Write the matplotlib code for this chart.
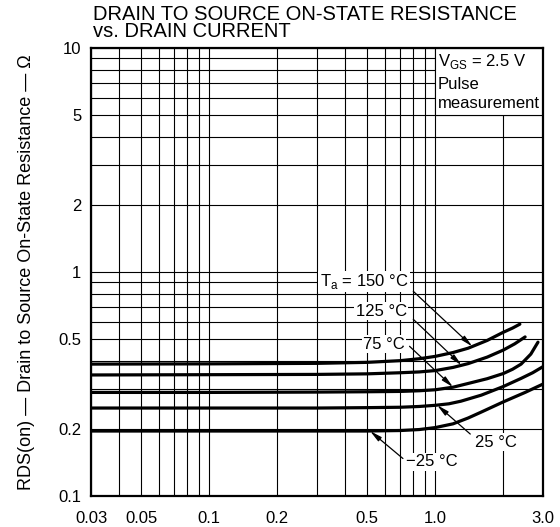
import numpy as np
import matplotlib
matplotlib.use("Agg")
import matplotlib.pyplot as plt
from matplotlib.ticker import FixedLocator, FixedFormatter, LogLocator, NullFormatter
from matplotlib.patches import Rectangle

plt.rcParams['font.family'] = ['Liberation Sans', 'DejaVu Sans']
plt.rcParams['mathtext.fontset'] = 'custom'
plt.rcParams['mathtext.rm'] = 'Liberation Sans'

# drain current (A) vs RDS(on) (ohm)
current_150 = [0.03, 0.1, 0.3, 0.5, 0.7, 0.85, 1.0, 1.2, 1.4, 1.7, 2.0, 2.2, 2.37]
rds_150 = [0.388, 0.389, 0.391, 0.395, 0.402, 0.41, 0.42, 0.437, 0.457, 0.495, 0.538, 0.562, 0.585]

current_125 = [0.03, 0.1, 0.3, 0.5, 0.7, 0.85, 1.0, 1.2, 1.4, 1.7, 2.0, 2.25, 2.5]
rds_125 = [0.347, 0.348, 0.349, 0.351, 0.355, 0.358, 0.363, 0.375, 0.39, 0.417, 0.448, 0.478, 0.513]

current_75 = [0.03, 0.1, 0.3, 0.5, 0.7, 0.85, 1.0, 1.2, 1.4, 1.7, 2.0, 2.2, 2.4, 2.65, 2.85]
rds_75 = [0.29, 0.29, 0.291, 0.292, 0.293, 0.295, 0.298, 0.306, 0.318, 0.334, 0.352, 0.368, 0.388, 0.43, 0.486]

current_25 = [0.03, 0.1, 0.3, 0.5, 0.7, 0.85, 1.0, 1.15, 1.3, 1.6, 2.0, 2.4, 2.7, 3.0]
rds_25 = [0.247, 0.247, 0.247, 0.248, 0.249, 0.251, 0.254, 0.258, 0.265, 0.282, 0.308, 0.335, 0.355, 0.378]

current_m25 = [0.03, 0.1, 0.3, 0.5, 0.7, 0.85, 1.0, 1.2, 1.4, 1.6, 2.0, 2.5, 3.0]
rds_m25 = [0.195, 0.195, 0.195, 0.195, 0.196, 0.198, 0.202, 0.21, 0.223, 0.237, 0.263, 0.29, 0.316]

x_ticks = [0.03, 0.05, 0.1, 0.2, 0.5, 1.0, 3.0]
x_ticklabels = ["0.03", "0.05", "0.1", "0.2", "0.5", "1.0", "3.0"]
y_ticks = [0.1, 0.2, 0.5, 1, 2, 5, 10]
y_ticklabels = ["0.1", "0.2", "0.5", "1", "2", "5", "10"]

# label text, label anchor (I, R), alignment, leader start (I, R), leader tip current
curve_labels = [
    ("T$_\\mathregular{a}$ = 150 °C", (0.76, 0.908), "right", (0.80, 0.82), 1.46, current_150, rds_150),
    ("125 °C", (0.75, 0.668), "right", (0.80, 0.615), 1.31, current_125, rds_125),
    ("75 °C", (0.735, 0.476), "right", (0.77, 0.466), 1.2, current_75, rds_75),
    ("25 °C", (1.5, 0.174), "left", (1.43, 0.189), 1.02, current_25, rds_25),
    ("\u221225 °C", (0.743, 0.142), "left", (0.72, 0.147), 0.515, current_m25, rds_m25),
]

fig = plt.figure(figsize=(5.6, 5.27), dpi=100)
ax = fig.add_axes([91 / 560, 1 - 496 / 527, 452 / 560, 448 / 527])
ax.set_xscale('log')
ax.set_yscale('log')
ax.set_xlim(0.03, 3.0)
ax.set_ylim(0.1, 10)

ax.xaxis.set_major_locator(FixedLocator(x_ticks))
ax.xaxis.set_major_formatter(FixedFormatter(x_ticklabels))
ax.xaxis.set_minor_locator(LogLocator(base=10, subs=np.arange(2, 10)))
ax.xaxis.set_minor_formatter(NullFormatter())
ax.yaxis.set_major_locator(FixedLocator(y_ticks))
ax.yaxis.set_major_formatter(FixedFormatter(y_ticklabels))
ax.yaxis.set_minor_locator(LogLocator(base=10, subs=np.arange(2, 10)))
ax.yaxis.set_minor_formatter(NullFormatter())

ax.set_axisbelow(True)
ax.grid(True, which='both', color='black', lw=0.8)
ax.tick_params(which='both', length=0, labelsize=12)
ax.tick_params(axis='x', pad=11)
ax.tick_params(axis='y', pad=7)
for s in ax.spines.values():
    s.set_linewidth(1.6)

for I, R in [(current_150, rds_150), (current_125, rds_125), (current_75, rds_75),
             (current_25, rds_25), (current_m25, rds_m25)]:
    ax.plot(I, R, color='black', lw=2.3, solid_capstyle='round', solid_joinstyle='round', zorder=3)

# conditions box in the top right corner
ax.add_patch(Rectangle((1.0, 5.0), 2.0, 5.0, facecolor='white', edgecolor='black', lw=0.8, zorder=1))
ax.text(1.03, 8.67, "V$_\\mathregular{GS}$ = 2.5 V", fontsize=12, va='center', ha='left', zorder=4)
ax.text(1.03, 6.84, "Pulse", fontsize=12, va='center', ha='left', zorder=4)
ax.text(1.03, 5.63, "measurement", fontsize=12, va='center', ha='left', zorder=4)

for text, pos, ha, start, tip_i, I, R in curve_labels:
    tip_r = 10 ** np.interp(np.log10(tip_i), np.log10(I), np.log10(R))
    ax.annotate("", xy=(tip_i, tip_r), xytext=start,
                arrowprops=dict(arrowstyle='-|>,head_length=0.7,head_width=0.15',
                                color='black', lw=0.9, shrinkA=0, shrinkB=0), zorder=4)
    ax.text(pos[0], pos[1], text, fontsize=12, ha=ha, va='center', zorder=5,
            bbox=dict(facecolor='white', edgecolor='none', pad=1.0))

ax.set_ylabel("RDS(on) \u2014 Drain to Source On-State Resistance \u2014 \u03a9", fontsize=13, labelpad=17)

fig.text(93 / 560, 1 - 5 / 527, "DRAIN TO SOURCE ON-STATE RESISTANCE\nvs. DRAIN CURRENT",
         fontsize=14.5, ha='left', va='top', linespacing=0.88)

fig.savefig("out.png", dpi=100)
